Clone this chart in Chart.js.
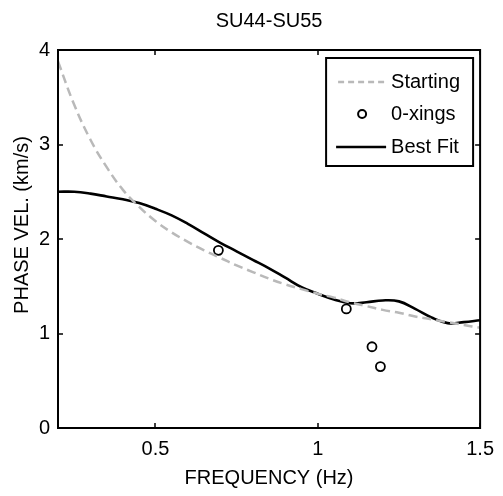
<!DOCTYPE html>
<html>
<head>
<meta charset="utf-8">
<script src="https://cdn.jsdelivr.net/npm/chart.js@4"></script>
<style>
  html, body { margin: 0; padding: 0; background: #fff; }
  #wrap { width: 503px; height: 496px; }
</style>
</head>
<body>
<div id="wrap"><canvas id="velChart" width="503" height="496"></canvas></div>
<script>
// frequencies (Hz) for the two curves
const freqs = [0.20, 0.25, 0.30, 0.35, 0.40, 0.45, 0.50, 0.55, 0.60, 0.65, 0.70, 0.75, 0.80, 0.85,
               0.90, 0.95, 1.00, 1.05, 1.10, 1.15, 1.20, 1.25, 1.30, 1.35, 1.40, 1.45, 1.50];
// starting model (dashed grey)
const startingVel = [3.88, 3.42, 3.05, 2.76, 2.52, 2.34, 2.19, 2.07, 1.97, 1.88, 1.80, 1.72, 1.65, 1.58,
                     1.52, 1.47, 1.42, 1.38, 1.33, 1.29, 1.25, 1.22, 1.18, 1.15, 1.12, 1.09, 1.06];
// best fit (solid black)
const bestFitVel = [2.50, 2.50, 2.48, 2.45, 2.42, 2.38, 2.32, 2.25, 2.16, 2.06, 1.96, 1.87, 1.78, 1.69,
                    1.59, 1.49, 1.42, 1.36, 1.32, 1.33, 1.35, 1.34, 1.26, 1.17, 1.11, 1.12, 1.14];
// zero crossings (circles)
const xingFreq = [0.694, 1.088, 1.167, 1.193];
const xingVel = [1.88, 1.26, 0.86, 0.65];

const xTicks = [0.5, 1, 1.5];
const yTicks = [0, 1, 2, 3, 4];

const FONT = "'Liberation Sans', Arial, sans-serif";
const dashColor = '#b9b9b9';

const toPts = (xs, ys) => xs.map((x, i) => ({ x: x, y: ys[i] }));

// frame, inward ticks, title, y label and legend (MATLAB look)
const matlabLook = {
    id: 'matlabLook',
    afterDatasetsDraw(chart) {
        const ctx = chart.ctx;
        const a = chart.chartArea;
        const sx = chart.scales.x, sy = chart.scales.y;
        ctx.save();

        // ticks inward on all four sides
        ctx.strokeStyle = '#000';
        ctx.lineWidth = 1.5;
        ctx.beginPath();
        xTicks.forEach(v => {
            const px = Math.round(sx.getPixelForValue(v));
            ctx.moveTo(px, a.bottom); ctx.lineTo(px, a.bottom - 5);
            ctx.moveTo(px, a.top); ctx.lineTo(px, a.top + 5);
        });
        yTicks.forEach(v => {
            const py = Math.round(sy.getPixelForValue(v));
            ctx.moveTo(a.left, py); ctx.lineTo(a.left + 5, py);
            ctx.moveTo(a.right, py); ctx.lineTo(a.right - 5, py);
        });
        ctx.stroke();

        // box
        ctx.lineWidth = 2;
        ctx.strokeRect(a.left, a.top, a.right - a.left, a.bottom - a.top);

        // title
        ctx.fillStyle = '#000';
        ctx.font = '20px ' + FONT;
        ctx.textAlign = 'center';
        ctx.textBaseline = 'middle';
        ctx.fillText('SU44-SU55', (a.left + a.right) / 2, 21);

        // y axis label
        ctx.save();
        ctx.translate(22, 225);
        ctx.rotate(-Math.PI / 2);
        ctx.font = '20px ' + FONT;
        ctx.fillText('PHASE VEL. (km/s)', 0, 0);
        ctx.restore();

        // legend
        const lx = a.right - 154, ly = a.top + 8, lw = 147, lh = 108;
        ctx.fillStyle = '#fff';
        ctx.fillRect(lx, ly, lw, lh);
        ctx.strokeStyle = '#000';
        ctx.lineWidth = 2;
        ctx.strokeRect(lx, ly, lw, lh);

        const rows = [ly + 24, ly + 56, ly + 89];
        ctx.lineWidth = 2.5;
        ctx.strokeStyle = dashColor;
        ctx.setLineDash([6, 4]);
        ctx.beginPath(); ctx.moveTo(lx + 12, rows[0]); ctx.lineTo(lx + 60, rows[0]); ctx.stroke();
        ctx.setLineDash([]);
        ctx.strokeStyle = '#000';
        ctx.lineWidth = 2;
        ctx.beginPath(); ctx.arc(lx + 36, rows[1], 4, 0, Math.PI * 2); ctx.stroke();
        ctx.lineWidth = 2.5;
        ctx.beginPath(); ctx.moveTo(lx + 10, rows[2]); ctx.lineTo(lx + 60, rows[2]); ctx.stroke();

        ctx.fillStyle = '#000';
        ctx.font = '20px ' + FONT;
        ctx.textAlign = 'left';
        ctx.textBaseline = 'middle';
        ctx.fillText('Starting', lx + 65, rows[0]);
        ctx.fillText('0-xings', lx + 65, rows[1]);
        ctx.fillText('Best Fit', lx + 65, rows[2]);

        ctx.restore();
    }
};

new Chart(document.getElementById('velChart').getContext('2d'), {
    type: 'line',
    data: {
        datasets: [
            {
                label: 'Starting',
                data: toPts(freqs, startingVel),
                borderColor: dashColor,
                borderWidth: 2.5,
                borderDash: [9, 5],
                pointRadius: 0,
                tension: 0.4,
                fill: false
            },
            {
                label: '0-xings',
                data: toPts(xingFreq, xingVel),
                showLine: false,
                pointStyle: 'circle',
                pointRadius: 4.5,
                pointBorderWidth: 1.8,
                borderColor: '#000',
                backgroundColor: 'rgba(0,0,0,0)'
            },
            {
                label: 'Best Fit',
                data: toPts(freqs, bestFitVel),
                borderColor: '#000',
                borderWidth: 2.6,
                pointRadius: 0,
                tension: 0.4,
                fill: false
            }
        ]
    },
    options: {
        responsive: false,
        animation: false,
        layout: { padding: { top: 50, right: 19, bottom: 0, left: 0 } },
        plugins: {
            legend: { display: false },
            tooltip: { enabled: false },
            title: { display: false }
        },
        scales: {
            x: {
                type: 'linear',
                min: 0.2,
                max: 1.5,
                afterFit: s => { s.height = 68; },
                afterBuildTicks: s => { s.ticks = xTicks.map(v => ({ value: v })); },
                grid: { display: false, drawTicks: false },
                border: { display: false },
                ticks: {
                    color: '#000',
                    padding: 9,
                    maxRotation: 0,
                    font: { size: 20, family: FONT },
                    callback: v => String(v)
                },
                title: {
                    display: true,
                    text: 'FREQUENCY (Hz)',
                    color: '#000',
                    font: { size: 20, family: FONT },
                    padding: { top: 0, bottom: 6 }
                }
            },
            y: {
                type: 'linear',
                min: 0,
                max: 4,
                afterFit: s => { s.width = 58; },
                afterBuildTicks: s => { s.ticks = yTicks.map(v => ({ value: v })); },
                grid: { display: false, drawTicks: false },
                border: { display: false },
                ticks: {
                    color: '#000',
                    padding: 8,
                    font: { size: 20, family: FONT }
                }
            }
        }
    },
    plugins: [matlabLook]
});
</script>
</body>
</html>
